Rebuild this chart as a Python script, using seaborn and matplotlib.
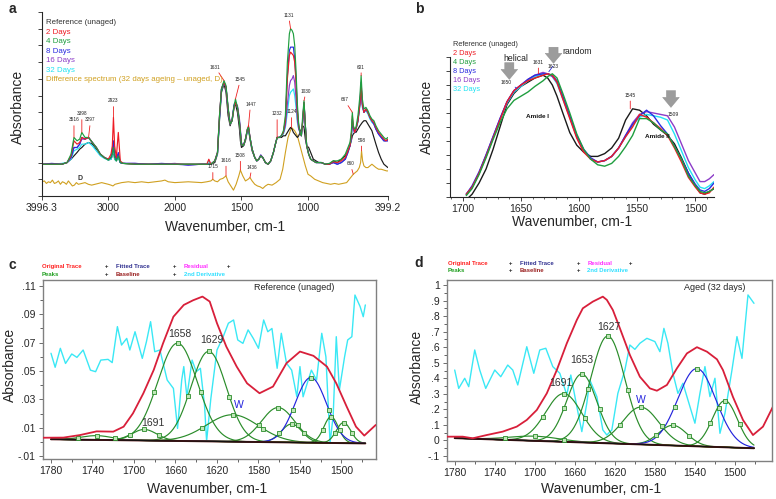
import numpy as np
import matplotlib
matplotlib.use("Agg")
import matplotlib.pyplot as plt
import seaborn as sns
from matplotlib.ticker import MultipleLocator, FixedLocator, FuncFormatter, NullFormatter

# ---------------- panel a: full spectra, shared wavenumber grid ----------------
wn_a = [3996, 3850, 3700, 3620, 3560, 3516, 3470, 3430, 3398, 3350,
        3297, 3240, 3180, 3120, 3060, 3000, 2960, 2940, 2923, 2905,
        2880, 2850, 2820, 2780, 2600, 2400, 2200, 2000, 1900, 1800,
        1760, 1745, 1730, 1715, 1700, 1680, 1665, 1650, 1631, 1616,
        1600, 1585, 1570, 1555, 1545, 1530, 1515, 1508, 1500, 1485,
        1470, 1455, 1447, 1436, 1420, 1400, 1385, 1370, 1355, 1340,
        1320, 1300, 1280, 1260, 1245, 1232, 1215, 1200, 1185, 1170,
        1155, 1140, 1131, 1120, 1110, 1100, 1090, 1080, 1070, 1060,
        1050, 1040, 1030, 1020, 1010, 995, 980, 960, 940, 920,
        900, 870, 840, 810, 780, 750, 720, 700, 685, 675,
        667, 660, 650, 640, 625, 610, 601, 592, 580, 565,
        550, 535, 520, 505, 490, 470, 450, 430, 415, 400]
ref_a = [.19, .19, .19, .20, .22, .24, .26, .28, .29, .31,
         .32, .31, .28, .25, .23, .215, .22, .24, .27, .22,
         .21, .23, .20, .195, .19, .19, .19, .19, .19, .19,
         .19, .19, .19, .195, .20, .25, .45, .62, .67, .62,
         .48, .42, .46, .54, .55, .50, .40, .33, .29, .30,
         .33, .39, .40, .34, .27, .23, .21, .22, .24, .23,
         .20, .19, .21, .26, .31, .35, .35, .35, .36, .36,
         .38, .40, .41, .40, .38, .37, .36, .35, .36, .38,
         .40, .42, .41, .34, .30, .29, .26, .22, .21, .20,
         .20, .19, .19, .21, .20, .22, .24, .27, .30, .33,
         .36, .37, .38, .38, .40, .42, .43, .44, .45, .45,
         .43, .41, .39, .35, .31, .26, .22, .19, .18, .17]
d2_a = [.19, .19, .19, .20, .24, .33, .31, .32, .35, .34,
        .35, .32, .29, .25, .23, .22, .25, .30, .47, .30,
        .23, .38, .21, .195, .19, .19, .19, .19, .19, .19,
        .19, .22, .19, .20, .21, .26, .48, .64, .68, .65,
        .52, .43, .45, .53, .56, .53, .44, .38, .31, .30,
        .34, .40, .42, .35, .28, .23, .21, .22, .24, .23,
        .20, .19, .21, .26, .31, .35, .35, .36, .38, .45,
        .70, .84, .86, .85, .84, .80, .68, .50, .42, .38,
        .36, .45, .56, .42, .30, .25, .22, .21, .20, .20,
        .20, .19, .19, .205, .20, .21, .23, .27, .30, .36,
        .48, .42, .38, .40, .45, .55, .66, .55, .50, .52,
        .50, .47, .45, .44, .41, .38, .36, .34, .33, .34]
d4_a = [.19, .19, .19, .20, .25, .35, .33, .34, .38, .35,
        .35, .32, .29, .25, .23, .215, .23, .25, .29, .23,
        .21, .24, .20, .195, .19, .19, .19, .19, .19, .19,
        .19, .19, .19, .20, .21, .26, .48, .64, .69, .66,
        .53, .43, .45, .54, .58, .53, .44, .38, .31, .30,
        .34, .40, .41, .35, .28, .23, .21, .22, .24, .23,
        .20, .19, .21, .26, .31, .35, .35, .36, .39, .48,
        .80, .97, 1.0, .99, .97, .90, .75, .55, .43, .38,
        .36, .48, .57, .42, .30, .25, .22, .21, .20, .20,
        .20, .19, .195, .21, .21, .22, .25, .29, .32, .38,
        .50, .42, .40, .41, .48, .60, .72, .58, .52, .53,
        .51, .48, .46, .45, .42, .39, .37, .35, .34, .35]
d8_a = [.19, .195, .19, .20, .23, .29, .29, .31, .35, .34,
        .35, .32, .29, .25, .23, .22, .23, .27, .33, .25,
        .22, .26, .20, .195, .195, .19, .195, .19, .185, .19,
        .19, .19, .19, .20, .21, .26, .47, .64, .68, .65,
        .52, .43, .45, .54, .56, .53, .44, .38, .31, .30,
        .34, .40, .41, .35, .28, .23, .21, .22, .245, .23,
        .20, .19, .21, .26, .31, .35, .35, .36, .38, .45,
        .72, .87, .89, .89, .89, .82, .70, .52, .42, .38,
        .36, .45, .56, .42, .30, .25, .22, .21, .20, .20,
        .20, .19, .19, .20, .19, .20, .22, .26, .30, .35,
        .46, .41, .38, .40, .45, .56, .68, .55, .50, .52,
        .50, .47, .45, .43, .40, .37, .35, .33, .33, .33]
d16_a = [.19, .19, .19, .20, .23, .29, .29, .31, .34, .34,
         .35, .32, .29, .25, .23, .22, .23, .26, .32, .24,
         .22, .25, .20, .195, .195, .19, .19, .195, .185, .19,
         .19, .19, .19, .20, .21, .26, .47, .64, .68, .65,
         .52, .43, .46, .55, .56, .54, .46, .40, .32, .30,
         .34, .40, .41, .35, .28, .23, .21, .22, .245, .23,
         .20, .19, .21, .26, .31, .35, .35, .36, .38, .42,
         .55, .66, .69, .70, .72, .68, .58, .46, .40, .38,
         .36, .44, .55, .42, .30, .25, .22, .21, .20, .20,
         .20, .19, .19, .20, .19, .20, .22, .27, .30, .35,
         .45, .41, .38, .40, .45, .55, .66, .54, .50, .52,
         .50, .47, .45, .43, .40, .37, .35, .33, .33, .33]
d32_a = [.19, .19, .195, .20, .22, .27, .28, .29, .31, .31,
         .32, .30, .27, .24, .225, .215, .22, .24, .28, .22,
         .21, .23, .20, .195, .19, .19, .19, .19, .19, .19,
         .19, .21, .19, .20, .21, .25, .46, .63, .68, .65,
         .52, .43, .45, .54, .56, .53, .45, .39, .31, .30,
         .34, .39, .40, .35, .28, .23, .21, .22, .24, .23,
         .20, .19, .21, .26, .31, .35, .35, .36, .37, .41,
         .50, .60, .62, .63, .64, .60, .53, .44, .40, .38,
         .36, .44, .55, .42, .30, .25, .22, .21, .20, .20,
         .20, .19, .19, .20, .19, .20, .22, .26, .30, .34,
         .44, .40, .38, .40, .44, .54, .64, .53, .50, .51,
         .49, .46, .44, .43, .40, .37, .35, .33, .33, .34]

wn_diff = [3996, 3960, 3930, 3900, 3870, 3840, 3810, 3780, 3750, 3720,
           3690, 3660, 3630, 3600, 3570, 3540, 3510, 3480, 3450, 3400,
           3350, 3300, 3250, 3200, 3150, 3100, 3050, 3000, 2960, 2930,
           2900, 2850, 2800, 2700, 2600, 2500, 2400, 2300, 2200, 2150,
           2100, 2000, 1900, 1800, 1760, 1730, 1715, 1700, 1680, 1660,
           1640, 1616, 1600, 1580, 1560, 1540, 1520, 1508, 1490, 1470,
           1450, 1436, 1420, 1400, 1380, 1360, 1340, 1320, 1300, 1270,
           1240, 1210, 1190, 1170, 1150, 1124, 1100, 1080, 1060, 1040,
           1020, 1000, 980, 950, 920, 890, 860, 830, 800, 770,
           740, 710, 690, 675, 660, 645, 630, 615, 605, 598,
           590, 580, 565, 550, 535, 520, 505, 490, 470, 450,
           430, 410, 400]
diff_a = [.085, .09, .075, .085, .08, .095, .075, .08, .09, .07,
          .085, .08, .07, .09, .075, .06, .065, .08, .07, .075,
          .08, .07, .065, .07, .075, .08, .075, .07, .065, .06,
          .07, .075, .08, .085, .08, .085, .08, .085, .09, .095,
          .085, .08, .085, .08, .085, .09, .10, .09, .085, .10,
          .105, .12, .085, .06, .035, .07, .12, .155, .12, .09,
          .10, .11, .09, .07, .06, .055, .045, .06, .07, .065,
          .08, .10, .16, .26, .35, .41, .39, .36, .30, .24,
          .18, .13, .12, .10, .09, .08, .075, .07, .075, .07,
          .075, .08, .10, .115, .13, .14, .15, .17, .20, .27,
          .21, .18, .17, .17, .18, .19, .18, .17, .16, .16,
          .155, .15, .15]

# peak labels: (text, wavenumber, absorbance at the leader end, text offset px)
peaks_a = [("3516", 3516, .35, 0, 15), ("3398", 3398, .38, 0, 16), ("3297", 3297, .35, 2, 15),
           ("2923", 2923, .47, 0, 14), ("1631", 1631, .69, -9, 11), ("1545", 1545, .58, 5, 17),
           ("1447", 1447, .42, 2, 19), ("1232", 1232, .35, 0, 21), ("1131", 1131, 1.0, -2, 11),
           ("1124", 1124, .41, 0, 13), ("1030", 1030, .57, 2, 7), ("667", 667, .50, -8, 10),
           ("601", 601, .72, 0, 6)]
peaks_diff = [("1715", 1715, .10, 0, 10), ("1616", 1616, .12, 0, 13), ("1508", 1508, .155, 0, 12),
              ("1436", 1436, .11, 2, 8), ("660", 660, .13, -3, 8), ("598", 598, .27, 0, 8)]

# ---------------- panel b: amide region ----------------
wn_b = [1697, 1692, 1686, 1680, 1674, 1668, 1662, 1656, 1650, 1644,
        1638, 1631, 1627, 1623, 1619, 1614, 1608, 1602, 1596, 1590,
        1584, 1578, 1572, 1566, 1560, 1554, 1548, 1542, 1536, 1530,
        1524, 1518, 1512, 1506, 1500, 1496, 1492, 1488, 1484]
ref_b = [-.02, .02, .10, .20, .34, .50, .66, .74, .79, .82,
         .85, .87, .85, .80, .72, .60, .46, .37, .32, .29,
         .29, .31, .35, .42, .55, .63, .62, .58, .52, .48,
         .44, .38, .28, .17, .08, .03, .02, .04, .06]
d2_b = [.02, .07, .17, .29, .42, .55, .68, .76, .80, .83,
        .85, .87, .88, .87, .82, .70, .56, .42, .32, .27,
        .25, .26, .29, .35, .43, .50, .59, .57, .53, .49,
        .44, .35, .25, .14, .07, .03, .02, .03, .07]
d4_b = [.01, .06, .16, .28, .41, .53, .63, .69, .72, .75,
        .79, .83, .86, .88, .85, .74, .60, .45, .34, .27,
        .23, .22, .24, .29, .36, .44, .56, .56, .53, .48,
        .45, .36, .27, .15, .08, .04, .03, .04, .06]
d8_b = [.02, .08, .18, .30, .43, .56, .68, .76, .80, .84,
        .87, .88, .88, .87, .83, .72, .58, .44, .34, .28,
        .25, .26, .29, .35, .44, .52, .58, .62, .58, .51,
        .45, .36, .27, .17, .09, .05, .04, .06, .10]
d16_b = [.02, .07, .17, .30, .43, .56, .68, .76, .80, .84,
         .87, .89, .88, .86, .82, .71, .57, .43, .33, .27,
         .25, .26, .29, .35, .44, .53, .59, .61, .60, .59,
         .58, .50, .38, .26, .17, .11, .11, .13, .16]
d32_b = [.02, .07, .17, .29, .42, .55, .67, .75, .79, .83,
         .86, .88, .88, .86, .81, .70, .57, .43, .33, .27,
         .25, .26, .29, .35, .43, .51, .57, .59, .58, .57,
         .55, .45, .33, .21, .12, .07, .06, .08, .11]

# ---------------- panel c: curve fit, reference ----------------
orig_c_x = [1788, 1768, 1752, 1736, 1720, 1710, 1701, 1691, 1681, 1672,
            1662, 1652, 1643, 1634, 1627, 1620, 1611, 1601, 1591, 1579,
            1566, 1553, 1540, 1527, 1514, 1505, 1495, 1486, 1478, 1467]
orig_c_y = [.0029, .003, .0048, .0074, .0072, .0107, .0201, .0342, .0507, .0695,
            .0883, .0966, .0999, .1025, .099, .0837, .0672, .0531, .0413, .0343,
            .039, .0555, .0637, .0607, .0531, .0413, .0249, .0107, .0044, .0119]
deriv_c_x = [1780, 1776, 1771, 1766, 1760, 1755, 1749, 1742, 1737, 1732,
             1725, 1721, 1716, 1712, 1707, 1704, 1699, 1692, 1688, 1684,
             1680, 1675, 1668, 1662, 1658, 1654, 1652, 1649, 1644, 1640,
             1636, 1632, 1630, 1626, 1620, 1614, 1609, 1604, 1600, 1595,
             1590, 1585, 1580, 1575, 1571, 1567, 1562, 1558, 1553, 1548,
             1543, 1540, 1537, 1534, 1529, 1524, 1519, 1515, 1511, 1508,
             1505, 1502, 1497, 1494, 1490, 1487, 1482, 1479, 1477]
deriv_c_y = [.0625, .0526, .0660, .0553, .0620, .0596, .0648, .0506, .0495, .0577,
             .0582, .0559, .0813, .0683, .0730, .0648, .0777, .0589, .0707, .0848,
             .0636, .0648, .0436, .0377, .0095, .0436, .0531, .0318, .0577, .0495,
             .0519, .0259, .0005, .030, .0648, .0742, .0837, .086, .0719, .0695,
             .079, .073, .066, .086, .0777, .080, .0519, .0766, .0555, .0506,
             .0318, .0531, .0318, .039, .0506, .0436, .0766, .060, -.0006, .0183,
             .0742, .0366, .060, .0719, .0742, .1036, .0954, .0883, .0966]
base_c_x = [1780, 1477]
base_c_y = [.0018, -.0011]
peak_c_center = [1736, 1690, 1658, 1628, 1605, 1561, 1548, 1510, 1498]
peak_c_height = [.003, .0078, .069, .0635, .019, .0245, .013, .0185, .0145]
peak_c_width = [15, 12, 19, 17, 25, 16, 10, 7, 7]
blue_c = (1529.5, .046, 15)

# ---------------- panel d: curve fit, aged 32 days ----------------
orig_d_x = [1788, 1772, 1762, 1748, 1732, 1718, 1708, 1698, 1688, 1678,
            1668, 1658, 1652, 1642, 1632, 1628, 1622, 1615, 1605, 1595,
            1585, 1578, 1568, 1558, 1548, 1538, 1528, 1518, 1512, 1502,
            1492, 1482, 1472, 1462]
orig_d_y = [.0245, .0245, .014, .035, .057, .089, .132, .196, .303, .453,
            .625, .775, .85, .893, .925, .904, .839, .722, .55, .41,
            .335, .32, .357, .464, .56, .60, .571, .522, .453, .28,
            .132, .035, .089, .218]
deriv_d_x = [1780, 1776, 1770, 1766, 1760, 1755, 1749, 1740, 1734, 1727,
             1722, 1717, 1708, 1701, 1695, 1689, 1682, 1675, 1668, 1664,
             1658, 1653, 1648, 1645, 1638, 1632, 1628, 1623, 1617, 1610,
             1605, 1600, 1595, 1588, 1580, 1575, 1571, 1567, 1562, 1557,
             1552, 1545, 1540, 1535, 1530, 1525, 1520, 1515, 1510, 1503,
             1498, 1493, 1487, 1481]
deriv_d_y = [.453, .335, .40, .346, .582, .453, .335, .453, .41, .485,
             .453, .357, .603, .432, .582, .593, .475, .432, .293, .421,
             .218, .057, .24, .389, .282, .068, .035, .068, .303, .453,
             .614, .586, .625, .657, .636, .571, .721, .625, .432, .303,
             .368, .218, .111, .303, .475, .282, .40, .046, .175, .453,
             .668, .528, .936, .882]
base_d_x = [1780, 1481]
base_d_y = [.015, -.05]
peak_d_center = [1700, 1671, 1653, 1627, 1594, 1562, 1510]
peak_d_height = [.03, .31, .44, .69, .24, .13, .30]
peak_d_width = [25, 18, 15, 17, 18, 14, 12.5]
blue_d = (1538, .50, 19)

# ---------------- style ----------------
sns.set_theme(style="ticks")
plt.rcParams["font.family"] = ["Liberation Sans", "DejaVu Sans"]

C_REF, C_2, C_4, C_8, C_16, C_32 = "#1a1a1a", "#ee1c25", "#1f9e3f", "#2b2be0", "#8c3cc8", "#22e3f3"
C_DIFF = "#d0a020"
C_TRACE, C_PEAK, C_BLUE, C_DERIV = "#d81f3a", "#2a8c2a", "#2424dd", "#3ae8f5"

W, H = 776, 499
fig = plt.figure(figsize=(W / 100, H / 100), dpi=100)


def add_ax(l, t, r, b):
    return fig.add_axes([l / W, 1 - b / H, (r - l) / W, (b - t) / H])


def ftext(x, y, s, **kw):
    kw.setdefault("ha", "center")
    kw.setdefault("va", "center")
    fig.text(x / W, 1 - y / H, s, **kw)


def line(ax, x, y, color, lw=0.9, z=2):
    sns.lineplot(x=x, y=y, ax=ax, color=color, linewidth=lw, zorder=z, estimator=None, sort=False)


# ================= a =================
ax = add_ax(42, 12, 388, 196)
line(ax, wn_diff, diff_a, C_DIFF, 0.8)
for vals, col in [(ref_a, C_REF), (d32_a, C_32), (d16_a, C_16), (d8_a, C_8), (d2_a, C_2), (d4_a, C_4)]:
    line(ax, wn_a, vals, col, 0.85)


def fwd(x):
    x = np.asarray(x, float)
    return np.where(x >= 2000, x, 2 * x - 2000)


def inv(u):
    u = np.asarray(u, float)
    return np.where(u >= 2000, u, (u + 2000) / 2)


ax.set_xscale("function", functions=(fwd, inv))
ax.set_xlim(3996.3, 399.2)
ax.set_ylim(0, 1.1)
ax.set_xticks([3996.3, 3000, 2000, 1500, 1000, 399.2])
ax.set_xticklabels(["3996.3", "3000", "2000", "1500", "1000", "399.2"])
ax.xaxis.set_minor_locator(FixedLocator([]))
ax.set_yticks(np.arange(0, 1.11, 0.1))
ax.yaxis.set_major_formatter(NullFormatter())
ax.set_xlabel("")
ax.set_ylabel("")
sns.despine(ax=ax)
ax.tick_params(labelsize=7.5, length=3, width=0.6, pad=2)
for s in ax.spines.values():
    s.set_linewidth(0.8)
for lbl, wn, yv, dx, dy in peaks_a + peaks_diff:
    ax.annotate(lbl, xy=(wn, yv), xytext=(dx * 0.72, dy * 0.72), textcoords="offset points",
                fontsize=3.4, ha="center", va="bottom", color="#222222",
                arrowprops=dict(arrowstyle="-", color="#ee2020", lw=0.6, shrinkA=0, shrinkB=0))
ftext(80, 178, "D", fontsize=5, fontweight="bold", color="#333333")

legend_a = [("Reference (unaged)", "#333333"), ("2 Days", C_2), ("4 Days", C_4), ("8 Days", C_8),
            ("16 Days", C_16), ("32 Days", C_32),
            ("Difference spectrum (32 days ageing \u2013 unaged, D)", C_DIFF)]
for i, (s, c) in enumerate(legend_a):
    ftext(46, 22.7 + i * 9.55, s, ha="left", fontsize=5.7, color=c)

ftext(225, 227, "Wavenumber, cm-1", fontsize=10)
ftext(18, 107, "Absorbance", fontsize=10, rotation=90)
ftext(12, 9, "a", fontsize=10, fontweight="bold")

# ================= b =================
ax = add_ax(450, 57, 714, 197)
for vals, col in [(ref_b, C_REF), (d32_b, C_32), (d16_b, C_16), (d8_b, C_8), (d2_b, C_2), (d4_b, C_4)]:
    line(ax, wn_b, vals, col, 1.0)
ax.set_xlim(1711, 1484)
ax.set_ylim(0, 1)
ax.set_xticks([1700, 1650, 1600, 1550, 1500])
ax.xaxis.set_minor_locator(MultipleLocator(10))
ax.set_yticks(np.arange(0, 1.01, 0.1))
ax.yaxis.set_major_formatter(NullFormatter())
ax.set_xlabel("")
ax.set_ylabel("")
sns.despine(ax=ax)
ax.tick_params(labelsize=7.5, length=3, width=0.6, pad=2)
ax.tick_params(which="minor", length=1.5, width=0.5)
for s in ax.spines.values():
    s.set_linewidth(0.8)

ann_b = [("1650", 1654, .78, -10, 3, C_8), ("1631", 1635, .88, 0, 9, C_2),
         ("1623", 1626, .895, 4, 3, C_8), ("1545", 1556, .63, 0, 11, C_2)]
for lbl, wn, yv, dx, dy, c in ann_b:
    ax.annotate(lbl, xy=(wn, yv), xytext=(dx * 0.72, dy * 0.72), textcoords="offset points",
                fontsize=3.6, ha="center", va="bottom", color="#222222",
                arrowprops=dict(arrowstyle="-", color=c, lw=0.6, shrinkA=0, shrinkB=0))
ftext(673, 115, "1509", fontsize=3.6, color="#222222")
for xa, ytail, ytip in [(1660, .96, .84), (1622, 1.07, .955), (1521, .76, .64)]:
    ax.annotate("", xy=(xa, ytip), xytext=(xa, ytail), annotation_clip=False,
                arrowprops=dict(arrowstyle="simple,head_length=0.6,head_width=1.0,tail_width=0.55",
                                fc="#9c9c9c", ec="#8c8c8c", lw=0.3, mutation_scale=12,
                                shrinkA=0, shrinkB=0))
ftext(516, 58.5, "helical", fontsize=6.2, color="#222222")
ftext(562, 52, "random", fontsize=6.2, ha="left", color="#222222")
ftext(537, 117, "Amide I", fontsize=4.6, fontweight="bold", color="#111111")
ftext(657, 137, "Amide II", fontsize=4.6, fontweight="bold", color="#111111")

legend_b = legend_a[:6]
for i, (s, c) in enumerate(legend_b):
    ftext(452.7, 44.3 + i * 8.95, s, ha="left", fontsize=5.3, color=c)

ftext(572.5, 222, "Wavenumber, cm-1", fontsize=10)
ftext(427, 117, "Absorbance", fontsize=10, rotation=90)
ftext(419, 9, "b", fontsize=10, fontweight="bold")


# ================= c & d =================
def fit_panel(ax, orig_x, orig_y, der_x, der_y, base_x, base_y, centers, heights, widths, blue):
    lo, hi = min(base_x), max(base_x)
    xs = np.linspace(hi, lo, 500)
    base = np.interp(xs, base_x[::-1], base_y[::-1])
    line(ax, der_x, der_y, C_DERIV, 1.0, 2)
    for c, h, w in list(zip(centers, heights, widths)) + [blue]:
        col = C_BLUE if (c, h, w) == blue else C_PEAK
        line(ax, xs, base + h * np.exp(-0.5 * ((xs - c) / w) ** 2), col, 0.85, 3)
        mx = np.array([c + 1.1774 * w, c, c - 1.1774 * w])
        my = np.interp(mx, base_x[::-1], base_y[::-1]) + h * np.array([0.5, 1.0, 0.5])
        ax.plot(mx, my, "s", ms=2.3, mfc="#bfe6b8", mec=C_PEAK, mew=0.6, zorder=4, clip_on=True)
    line(ax, base_x, base_y, "#5a1414", 1.4, 3)
    line(ax, base_x, base_y, "#111111", 0.7, 3)
    line(ax, orig_x, orig_y, C_TRACE, 1.3, 5)
    for s in ax.spines.values():
        s.set_color("#808080")
        s.set_linewidth(1.0)
    ax.set_xticks(range(1780, 1499, -40))
    ax.xaxis.set_minor_locator(MultipleLocator(20))
    ax.tick_params(labelsize=7.5, length=3, width=0.6, pad=2, color="#555555")
    ax.tick_params(which="minor", length=2, width=0.5)
    ax.set_xlabel("")
    ax.set_ylabel("")


ax = add_ax(42.7, 280, 375.7, 459)
fit_panel(ax, orig_c_x, orig_c_y, deriv_c_x, deriv_c_y, base_c_x, base_c_y,
          peak_c_center, peak_c_height, peak_c_width, blue_c)
ax.set_xlim(1788, 1467)
ax.set_ylim(-0.0121, 0.1142)
ax.set_yticks(np.arange(-0.01, 0.111, 0.02))
ax.yaxis.set_minor_locator(MultipleLocator(0.01))
ax.yaxis.set_major_formatter(FuncFormatter(lambda v, _: f"{v:.2f}".replace("0.", ".")))

ax = add_ax(446.7, 280, 772, 461)
fit_panel(ax, orig_d_x, orig_d_y, deriv_d_x, deriv_d_y, base_d_x, base_d_y,
          peak_d_center, peak_d_height, peak_d_width, blue_d)
ax.set_xlim(1788, 1463)
ax.set_ylim(-0.132, 1.032)
ax.set_yticks(np.arange(-0.1, 1.01, 0.1))
ax.yaxis.set_minor_locator(MultipleLocator(0.05))


def fmt_d(v, _):
    v = round(v, 1)
    if v == 1:
        return "1"
    if v == 0:
        return "0"
    return f"{v:.1f}".replace("0.", ".")


ax.yaxis.set_major_formatter(FuncFormatter(fmt_d))

# legends of the fitting software
leg_items = [("Original Trace", "#ff2020"), ("Fitted Trace", "#303090"), ("Residual", "#ff30ff"),
             ("Peaks", "#22a022"), ("Baseline", "#9a2020"), ("2nd Derivative", "#30e0ff")]
for x0, y0, xs_ in [(42, 266.7, (42, 106.7, 115.7, 174, 184, 228)),
                    (447.7, 263.3, (447.7, 510.7, 520, 578.3, 587.3, 630))]:
    for row in range(2):
        yy = y0 + row * 7.5
        for k in range(3):
            if row == 1 and k == 2:
                txt, col = leg_items[5]
            else:
                txt, col = leg_items[row * 3 + k]
            ftext(xs_[2 * k], yy, txt, ha="left", fontsize=4.3, fontweight="bold", color=col)
            if not (row == 1 and k == 2):
                ftext(xs_[2 * k + 1], yy, "+", fontsize=4.3, fontweight="bold", color="#222222")

ftext(294, 287, "Reference (unaged)", fontsize=6.5, color="#222222")
ftext(715, 287, "Aged (32 days)", fontsize=6.5, color="#222222")
for s, x, y, c in [("1658", 180, 334, "#333333"), ("1629", 212, 340, "#333333"),
                   ("1691", 153, 423, "#333333"), ("W", 239, 405, C_BLUE),
                   ("1627", 609, 327, "#333333"), ("1653", 582, 360, "#333333"),
                   ("1691", 561, 383, "#333333"), ("W", 641, 400, C_BLUE)]:
    ftext(x, y, s, fontsize=7.5, color=c)

ftext(207, 489, "Wavenumber, cm-1", fontsize=10)
ftext(10, 365, "Absorbance", fontsize=10, rotation=90)
ftext(12, 265, "c", fontsize=10, fontweight="bold")
ftext(601, 489, "Wavenumber, cm-1", fontsize=10)
ftext(417, 367, "Absorbance", fontsize=10, rotation=90)
ftext(419, 263, "d", fontsize=10, fontweight="bold")

fig.savefig("out.png", dpi=100)
